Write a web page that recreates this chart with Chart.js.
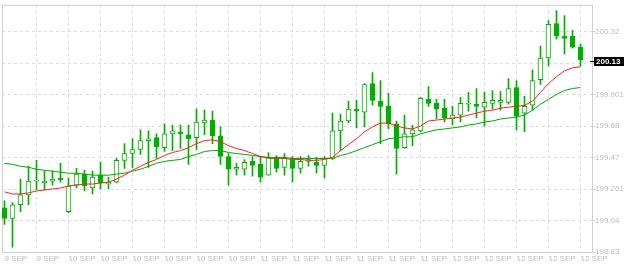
<!DOCTYPE html>
<html>
<head>
<meta charset="utf-8">
<script src="https://cdn.jsdelivr.net/npm/chart.js@4.4.0/dist/chart.umd.min.js"></script>
<style>
  html, body { margin: 0; padding: 0; background: #fff; }
  #chart { display: block; }
</style>
</head>
<body>
<canvas id="chart" width="624" height="266"></canvas>
<script>
// Hourly candles, 9 SEP .. 12 SEP (one label every 4 candles)
const dayLabels = ['9 SEP', '9 SEP', '10 SEP', '10 SEP', '10 SEP', '10 SEP', '10 SEP', '10 SEP',
  '11 SEP', '11 SEP', '11 SEP', '11 SEP', '11 SEP', '11 SEP', '12 SEP', '12 SEP', '12 SEP', '12 SEP', '12 SEP'];
const candlesPerLabel = 4;

const opens = [
  199.129, 199.056, 199.149, 199.216, 199.309, 199.296, 199.309, 199.329, 199.103, 199.282,
  199.356, 199.262, 199.349, 199.289, 199.302, 199.449, 199.495, 199.522, 199.582, 199.602,
  199.535, 199.628, 199.642, 199.622, 199.602, 199.701, 199.721, 199.615, 199.475, 199.389,
  199.389, 199.442, 199.422, 199.349, 199.469, 199.402, 199.462, 199.395, 199.442, 199.435,
  199.415, 199.462, 199.648, 199.715, 199.795, 199.775, 199.968, 199.848, 199.814, 199.695,
  199.535, 199.628, 199.648, 199.861, 199.834, 199.801, 199.728, 199.755, 199.828, 199.828,
  199.808, 199.834, 199.841, 199.841, 199.941, 199.768, 199.821, 199.994, 200.140, 200.373,
  200.287, 200.287, 200.214
];
const highs = [
  199.176, 199.163, 199.322, 199.409, 199.449, 199.376, 199.376, 199.429, 199.329, 199.395,
  199.382, 199.376, 199.435, 199.336, 199.462, 199.562, 199.595, 199.655, 199.648, 199.628,
  199.695, 199.688, 199.688, 199.688, 199.795, 199.788, 199.781, 199.675, 199.495, 199.429,
  199.455, 199.475, 199.475, 199.502, 199.482, 199.495, 199.475, 199.475, 199.482, 199.469,
  199.475, 199.768, 199.761, 199.848, 199.854, 199.968, 200.041, 199.987, 199.901, 199.715,
  199.755, 199.688, 199.874, 199.948, 199.861, 199.861, 199.814, 199.874, 199.908, 199.934,
  199.908, 199.921, 199.914, 200.001, 199.987, 199.881, 200.061, 200.220, 200.393, 200.460,
  200.426, 200.327, 200.234
];
const lows = [
  199.016, 198.863, 199.103, 199.149, 199.249, 199.249, 199.282, 199.302, 199.096, 199.262,
  199.242, 199.222, 199.256, 199.256, 199.296, 199.395, 199.402, 199.489, 199.402, 199.462,
  199.509, 199.515, 199.529, 199.422, 199.522, 199.622, 199.562, 199.422, 199.282, 199.349,
  199.349, 199.342, 199.302, 199.349, 199.369, 199.349, 199.302, 199.362, 199.409, 199.362,
  199.329, 199.455, 199.515, 199.701, 199.668, 199.675, 199.821, 199.562, 199.661, 199.356,
  199.529, 199.548, 199.642, 199.814, 199.728, 199.708, 199.688, 199.708, 199.781, 199.735,
  199.681, 199.795, 199.788, 199.828, 199.655, 199.642, 199.788, 199.961, 200.087, 200.267,
  200.167, 200.207, 200.087
];
const closes = [
  199.056, 199.149, 199.216, 199.309, 199.312, 199.309, 199.322, 199.316, 199.276, 199.356,
  199.276, 199.336, 199.296, 199.302, 199.449, 199.495, 199.522, 199.582, 199.595, 199.542,
  199.628, 199.648, 199.628, 199.595, 199.708, 199.721, 199.615, 199.475, 199.389, 199.402,
  199.435, 199.415, 199.336, 199.469, 199.395, 199.462, 199.395, 199.442, 199.455, 199.415,
  199.462, 199.648, 199.715, 199.795, 199.781, 199.961, 199.854, 199.814, 199.695, 199.529,
  199.628, 199.655, 199.868, 199.834, 199.795, 199.735, 199.755, 199.834, 199.834, 199.814,
  199.841, 199.854, 199.854, 199.934, 199.748, 199.814, 199.987, 200.140, 200.367, 200.287,
  200.273, 200.214, 200.127
];

// moving averages as drawn (red = fast, green = slow)
const maFast = [
  199.236, 199.222, 199.222, 199.229, 199.242, 199.249, 199.256, 199.262, 199.276, 199.282,
  199.289, 199.289, 199.296, 199.302, 199.322, 199.349, 199.382, 199.409, 199.435, 199.455,
  199.482, 199.502, 199.515, 199.535, 199.562, 199.582, 199.588, 199.575, 199.548, 199.529,
  199.515, 199.495, 199.475, 199.462, 199.462, 199.462, 199.455, 199.455, 199.449, 199.449,
  199.455, 199.469, 199.515, 199.555, 199.595, 199.642, 199.675, 199.701, 199.701, 199.681,
  199.668, 199.661, 199.681, 199.715, 199.721, 199.728, 199.735, 199.741, 199.755, 199.768,
  199.781, 199.788, 199.801, 199.808, 199.814, 199.821, 199.848, 199.908, 199.968, 200.014,
  200.054, 200.074, 200.081
];
const maSlow = [
  199.429, 199.422, 199.409, 199.402, 199.389, 199.382, 199.376, 199.369, 199.362, 199.362,
  199.356, 199.349, 199.349, 199.349, 199.356, 199.362, 199.376, 199.389, 199.409, 199.429,
  199.442, 199.449, 199.455, 199.475, 199.489, 199.509, 199.515, 199.515, 199.502, 199.495,
  199.489, 199.482, 199.475, 199.469, 199.469, 199.469, 199.462, 199.462, 199.462, 199.462,
  199.462, 199.462, 199.482, 199.495, 199.515, 199.535, 199.555, 199.575, 199.595, 199.602,
  199.608, 199.608, 199.628, 199.642, 199.655, 199.661, 199.668, 199.675, 199.688, 199.695,
  199.708, 199.715, 199.728, 199.735, 199.741, 199.755, 199.788, 199.828, 199.861, 199.894,
  199.921, 199.934, 199.941
];

// price axis
const yMin = 198.83;
const yMax = 200.4996;
const yTickValues = [198.830, 199.042, 199.255, 199.468, 199.680, 199.893, 200.106, 200.318];
const yTickLabels = ['198.83', '199.04', '199.261', '199.47', '199.68', '199.901', '200.11', '200.32'];

const candleColor = '#00b000';
const gridColor = '#dcdcdc';
const frameColor = '#d0d0d0';
const labelColor = '#bdbdbd';

Chart.defaults.font.family = '"Liberation Sans", Arial, sans-serif';
Chart.defaults.font.size = 8;

// plot frame on all four sides
const framePlugin = {
  id: 'frame',
  beforeDatasetsDraw(chart) {
    const { ctx, chartArea: a } = chart;
    ctx.save();
    ctx.strokeStyle = frameColor;
    ctx.lineWidth = 1;
    ctx.strokeRect(a.left + 0.5, a.top + 0.5, a.right - a.left, a.bottom - a.top);
    ctx.restore();
  }
};

// black box with the last price on the right axis
const priceTagPlugin = {
  id: 'priceTag',
  afterDraw(chart) {
    const { ctx, chartArea: a, scales: { y } } = chart;
    const last = closes[closes.length - 1];
    const py = Math.round(y.getPixelForValue(last)) + 1;
    ctx.save();
    ctx.fillStyle = '#000';
    ctx.fillRect(a.right - 2, py, 4, 1);
    ctx.fillRect(a.right + 2, py - 4, 32, 9);
    ctx.fillStyle = '#fff';
    ctx.font = 'bold 8px "Liberation Sans", Arial, sans-serif';
    ctx.textBaseline = 'middle';
    ctx.fillText(last.toFixed(2), a.right + 4, py + 0.5);
    ctx.restore();
  }
};

new Chart(document.getElementById('chart'), {
  type: 'bar',
  data: {
    datasets: [
      {
        type: 'line',
        label: 'MA fast',
        data: maFast.map((v, i) => ({ x: i, y: v })),
        borderColor: '#ff2020',
        borderWidth: 1,
        pointRadius: 0,
        tension: 0,
        order: 0
      },
      {
        type: 'line',
        label: 'MA slow',
        data: maSlow.map((v, i) => ({ x: i, y: v })),
        borderColor: '#00a800',
        borderWidth: 1,
        pointRadius: 0,
        tension: 0,
        order: 0
      },
      {
        label: 'bodies',
        data: opens.map((o, i) => ({ x: i, y: [o, closes[i]] })),
        backgroundColor: opens.map((o, i) => closes[i] >= o ? '#ffffff' : candleColor),
        borderColor: candleColor,
        borderWidth: 1,
        borderSkipped: false,
        barThickness: 5,
        maxBarThickness: 5,
        minBarLength: 1,
        grouped: false,
        order: 1
      },
      {
        label: 'wicks',
        data: lows.map((l, i) => ({ x: i, y: [l, highs[i]] })),
        backgroundColor: candleColor,
        borderWidth: 0,
        barThickness: 1,
        maxBarThickness: 1,
        grouped: false,
        order: 2
      }
    ]
  },
  options: {
    responsive: false,
    animation: false,
    devicePixelRatio: 1,
    events: [],
    layout: { padding: { left: 2, top: 1, right: 0, bottom: 0 } },
    plugins: {
      legend: { display: false },
      tooltip: { enabled: false }
    },
    scales: {
      x: {
        type: 'linear',
        min: -0.3125,
        max: 73.4375,
        offset: false,
        afterBuildTicks: s => { s.ticks = dayLabels.map((_, k) => ({ value: k * candlesPerLabel })); },
        afterFit: s => { s.height = 14; },
        grid: {
          color: c => c.index === 0 ? 'rgba(0,0,0,0)' : gridColor,
          drawTicks: false,
          offset: false
        },
        border: { display: false, dash: [3, 3] },
        ticks: {
          autoSkip: false,
          maxRotation: 0,
          align: 'start',
          padding: 2,
          color: labelColor,
          callback: (v, i) => dayLabels[i]
        }
      },
      y: {
        position: 'right',
        min: yMin,
        max: yMax,
        beginAtZero: false,
        afterBuildTicks: s => { s.ticks = yTickValues.map(v => ({ value: v })); },
        afterFit: s => { s.width = 32; },
        grid: { color: gridColor, tickLength: 3, tickColor: frameColor, drawTicks: true },
        border: { display: false, dash: [3, 3] },
        ticks: {
          padding: 0,
          color: labelColor,
          callback: (v, i) => yTickLabels[i]
        }
      }
    }
  },
  plugins: [framePlugin, priceTagPlugin]
});
</script>
</body>
</html>
